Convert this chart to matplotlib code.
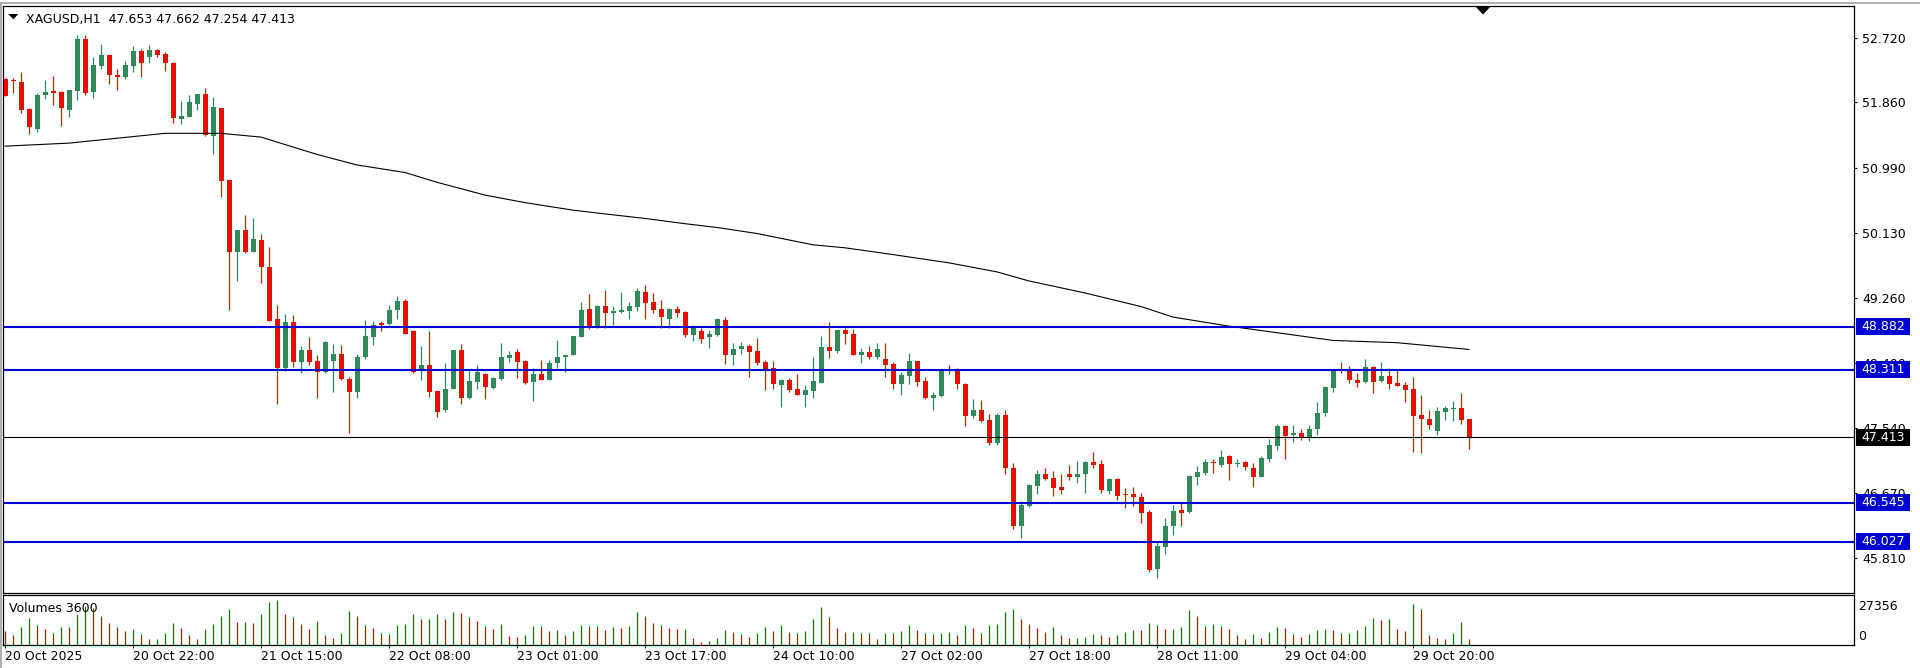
import numpy as np
import matplotlib
matplotlib.use("Agg")
import matplotlib.pyplot as plt
from matplotlib.patches import Polygon, Rectangle
from matplotlib.lines import Line2D

# ---------------- data ----------------
symbol = "XAGUSD,H1"

opens = [
    52.17, 52.16, 52.13, 51.77, 51.51, 51.96, 52.01, 52.00, 51.76, 52.01,
    52.70, 52.00, 52.35, 52.49, 52.23, 52.20, 52.35, 52.55, 52.47, 52.56,
    52.51, 52.39, 51.64, 51.67, 51.84, 51.97, 51.42, 51.79, 50.83, 49.88,
    50.17, 49.88, 50.03, 49.67, 48.98, 48.34, 48.94, 48.42, 48.57, 48.43,
    48.28, 48.43, 48.52, 48.19, 48.02, 48.48, 48.75, 48.93, 48.92, 49.10,
    49.23, 48.82, 48.30, 48.37, 48.03, 47.77, 48.06, 48.57, 47.93, 48.15,
    48.25, 48.07, 48.19, 48.47, 48.54, 48.43, 48.15, 48.26, 48.17, 48.40,
    48.48, 48.50, 48.75, 49.12, 48.86, 49.16, 49.07, 49.08, 49.09, 49.15,
    49.34, 49.21, 49.12, 48.98, 49.12, 49.08, 48.77, 48.82, 48.75, 48.77,
    48.97, 48.50, 48.58, 48.63, 48.56, 48.41, 48.34, 48.11, 48.17, 48.06,
    47.98, 48.03, 48.14, 48.61, 48.56, 48.84, 48.79, 48.50, 48.54, 48.48,
    48.45, 48.39, 48.12, 48.23, 48.43, 48.16, 47.94, 47.96, 48.32, 48.30,
    48.12, 47.69, 47.78, 47.64, 47.34, 47.71, 47.01, 46.24, 46.50, 46.77,
    46.93, 46.87, 46.76, 46.93, 46.89, 46.93, 47.08, 47.06, 46.70, 46.86,
    46.66, 46.66, 46.62, 46.42, 45.66, 45.96, 46.24, 46.45, 46.42, 46.89,
    46.94, 47.09, 47.05, 47.16, 47.06, 47.08, 47.01, 46.88, 47.12, 47.30,
    47.56, 47.44, 47.47, 47.40, 47.52, 47.73, 48.07, 48.31, 48.30, 48.18,
    48.15, 48.35, 48.16, 48.23, 48.14, 48.11, 48.06, 47.71, 47.66, 47.50,
    47.75, 47.79, 47.80, 47.653]

highs = [
    52.19, 52.19, 52.26, 51.79, 51.99, 52.16, 52.21, 52.01, 52.03, 52.76,
    52.76, 52.47, 52.64, 52.49, 52.30, 52.41, 52.61, 52.57, 52.62, 52.57,
    52.53, 52.40, 51.88, 51.96, 51.97, 52.05, 51.93, 51.79, 50.83, 50.17,
    50.37, 50.33, 50.11, 49.94, 49.17, 49.05, 49.04, 48.63, 48.74, 48.51,
    48.69, 48.65, 48.64, 48.22, 48.52, 48.97, 48.96, 48.96, 49.17, 49.29,
    49.25, 48.84, 48.63, 48.82, 48.03, 48.40, 48.57, 48.65, 48.31, 48.38,
    48.27, 48.22, 48.66, 48.56, 48.58, 48.44, 48.34, 48.44, 48.44, 48.70,
    48.51, 48.76, 49.21, 49.32, 49.17, 49.37, 49.16, 49.34, 49.21, 49.40,
    49.44, 49.33, 49.24, 49.13, 49.16, 49.09, 48.90, 48.86, 48.84, 49.00,
    49.01, 48.67, 48.68, 48.65, 48.73, 48.44, 48.43, 48.19, 48.20, 48.26,
    48.11, 48.48, 48.76, 48.94, 48.84, 48.87, 48.85, 48.60, 48.63, 48.67,
    48.67, 48.42, 48.28, 48.53, 48.43, 48.21, 48.01, 48.32, 48.37, 48.34,
    48.13, 47.92, 47.91, 47.72, 47.74, 47.78, 47.07, 46.57, 46.79, 46.98,
    47.01, 46.96, 46.93, 47.05, 47.10, 47.10, 47.22, 47.11, 46.87, 46.87,
    46.74, 46.75, 46.67, 46.45, 46.03, 46.34, 46.52, 46.54, 46.91, 47.03,
    47.13, 47.13, 47.25, 47.18, 47.12, 47.10, 47.07, 47.16, 47.39, 47.59,
    47.58, 47.58, 47.52, 47.58, 47.88, 48.09, 48.32, 48.41, 48.36, 48.27,
    48.46, 48.36, 48.41, 48.33, 48.31, 48.15, 48.22, 47.98, 47.78, 47.82,
    47.83, 47.89, 48.00, 47.662]

lows = [
    51.94, 51.98, 51.72, 51.44, 51.47, 51.90, 51.83, 51.55, 51.67, 51.89,
    51.96, 51.92, 52.31, 52.11, 52.03, 52.17, 52.26, 52.20, 52.39, 52.47,
    52.28, 51.59, 51.58, 51.67, 51.76, 51.41, 51.17, 50.61, 49.11, 49.49,
    49.86, 49.87, 49.46, 48.96, 47.86, 48.29, 48.35, 48.27, 48.38, 47.94,
    48.27, 48.02, 48.17, 47.47, 47.94, 48.45, 48.64, 48.83, 48.90, 48.99,
    48.79, 48.27, 48.17, 47.95, 47.68, 47.75, 48.05, 47.85, 47.92, 48.06,
    47.92, 48.06, 48.17, 48.42, 48.20, 48.12, 47.90, 48.17, 48.17, 48.34,
    48.28, 48.50, 48.74, 48.85, 48.86, 48.87, 48.91, 49.07, 48.99, 49.09,
    48.99, 49.06, 48.87, 48.87, 49.01, 48.75, 48.69, 48.67, 48.60, 48.76,
    48.39, 48.37, 48.52, 48.22, 48.37, 48.04, 48.06, 47.82, 48.01, 47.97,
    47.81, 47.93, 48.14, 48.47, 48.53, 48.65, 48.50, 48.40, 48.46, 48.45,
    48.22, 48.05, 47.97, 48.12, 48.09, 47.92, 47.77, 47.95, 48.26, 48.06,
    47.57, 47.67, 47.62, 47.31, 47.31, 46.93, 46.19, 46.08, 46.49, 46.66,
    46.85, 46.64, 46.66, 46.84, 46.81, 46.68, 47.00, 46.67, 46.66, 46.58,
    46.47, 46.50, 46.27, 45.63, 45.54, 45.86, 46.11, 46.24, 46.41, 46.78,
    46.91, 46.94, 47.02, 46.85, 47.02, 46.98, 46.76, 46.88, 47.08, 47.24,
    47.12, 47.35, 47.38, 47.36, 47.44, 47.70, 48.01, 48.27, 48.13, 48.08,
    48.13, 48.00, 48.15, 48.06, 48.09, 47.88, 47.22, 47.21, 47.53, 47.45,
    47.64, 47.63, 47.59, 47.254]

closes = [
    51.94, 52.14, 51.76, 51.53, 51.96, 52.00, 51.99, 51.78, 52.02, 52.70,
    51.99, 52.36, 52.49, 52.22, 52.20, 52.36, 52.55, 52.38, 52.56, 52.49,
    52.38, 51.66, 51.68, 51.86, 51.97, 51.43, 51.80, 50.82, 49.88, 50.17,
    49.88, 50.05, 49.67, 48.96, 48.34, 48.94, 48.42, 48.57, 48.42, 48.28,
    48.68, 48.52, 48.19, 48.01, 48.48, 48.76, 48.91, 48.91, 49.10, 49.22,
    48.79, 48.28, 48.37, 48.02, 47.75, 48.06, 48.57, 47.93, 48.16, 48.28,
    48.08, 48.20, 48.48, 48.51, 48.42, 48.14, 48.25, 48.17, 48.40, 48.48,
    48.51, 48.76, 49.10, 48.86, 49.16, 49.07, 49.09, 49.10, 49.16, 49.35,
    49.20, 49.10, 49.01, 49.12, 49.07, 48.77, 48.88, 48.72, 48.78, 48.98,
    48.50, 48.59, 48.63, 48.55, 48.40, 48.32, 48.12, 48.17, 48.04, 47.98,
    48.04, 48.16, 48.61, 48.56, 48.84, 48.78, 48.50, 48.54, 48.48, 48.58,
    48.38, 48.12, 48.24, 48.43, 48.15, 47.94, 47.98, 48.30, 48.29, 48.12,
    47.69, 47.78, 47.63, 47.34, 47.71, 47.01, 46.24, 46.51, 46.78, 46.93,
    46.86, 46.74, 46.71, 46.89, 46.93, 47.08, 47.05, 46.72, 46.86, 46.64,
    46.65, 46.62, 46.41, 45.65, 45.97, 46.24, 46.44, 46.41, 46.90, 46.95,
    47.09, 47.07, 47.15, 47.06, 47.07, 47.02, 46.88, 47.14, 47.31, 47.56,
    47.43, 47.47, 47.40, 47.52, 47.73, 48.08, 48.31, 48.29, 48.17, 48.14,
    48.35, 48.15, 48.23, 48.12, 48.10, 48.04, 47.70, 47.66, 47.58, 47.76,
    47.80, 47.80, 47.64, 47.413]

volumes = [
    8643, 5829, 11055, 16080, 11859, 9447, 7437, 11055, 10653, 18492,
    23718, 22512, 17688, 13467, 10653, 8643, 9447, 6834, 3417, 3819,
    7437, 13467, 10050, 5829, 3819, 9447, 12864, 17688, 21909, 13869,
    14070, 13467, 18492, 26130, 27356, 18492, 16683, 12462, 9447, 14673,
    6231, 4020, 7035, 20703, 17688, 11859, 10452, 7437, 6432, 12060,
    12462, 18894, 15477, 15678, 18894, 15678, 20100, 19497, 17085, 14472,
    11658, 9447, 12462, 5427, 5025, 6030, 11658, 11256, 8442, 9246,
    5829, 8643, 11859, 11457, 11256, 9045, 10653, 10251, 11256, 20100,
    17688, 13467, 11859, 10050, 9447, 9648, 4422, 2010, 2412, 4422,
    9246, 8040, 6432, 5025, 7437, 11055, 8643, 11859, 8040, 7035,
    8643, 15477, 22713, 16683, 10050, 7638, 8040, 7437, 7035, 3417,
    7437, 7035, 8442, 11859, 8844, 7035, 6432, 7035, 8040, 5829,
    11859, 10050, 7035, 12261, 12462, 19698, 21507, 15477, 12462, 10452,
    7638, 10653, 5829, 4020, 4422, 4623, 6834, 5829, 4623, 5829,
    8040, 9246, 9045, 13467, 11859, 9447, 9648, 10653, 20904, 17487,
    11457, 12462, 11457, 9447, 5829, 3417, 6432, 4020, 7638, 10653,
    10452, 6432, 4623, 6432, 8844, 9447, 8844, 7035, 7437, 8844,
    11256, 16080, 14874, 15477, 9447, 8643, 24924, 21909, 6231, 4422,
    3819, 7437, 13668, 3819]

# moving average line (read at these bar numbers)
ma_bars = [0, 8, 20, 27, 32, 39, 44, 47, 50, 54, 60, 65, 71, 75, 80, 85, 89, 94,
           101, 105, 111, 118, 124, 128, 135, 142, 146, 153, 166, 174, 183]
ma_values = [51.28, 51.32, 51.45, 51.45, 51.40, 51.17, 51.03, 50.98, 50.93, 50.80,
             50.63, 50.53, 50.43, 50.38, 50.32, 50.25, 50.20, 50.12, 49.97, 49.93,
             49.84, 49.73, 49.61, 49.49, 49.33, 49.15, 49.01, 48.89, 48.70, 48.67,
             48.58]

blue_levels = [48.882, 48.311, 46.545, 46.027]
last_price = 47.413
price_ticks = [52.720, 51.860, 50.990, 50.130, 49.260, 48.400, 47.540, 46.670, 45.810]
time_tick_bars = [0, 16, 32, 48, 64, 80, 96, 112, 128, 144, 160, 176]
time_tick_labels = ["20 Oct 2025", "20 Oct 22:00", "21 Oct 15:00", "22 Oct 08:00",
                    "23 Oct 01:00", "23 Oct 17:00", "24 Oct 10:00", "27 Oct 02:00",
                    "27 Oct 18:00", "28 Oct 11:00", "29 Oct 04:00", "29 Oct 20:00"]
volume_title = "Volumes 3600"
volume_max_label = 27356

# ---------------- style ----------------
BULL = "#2E8B57"
BEAR = "#FF0000"
VUP = "#008000"
VDN = "#E00000"
LEVEL_BLUE = "#0000D0"
FS = 9
plt.rcParams["font.family"] = ["DejaVu Sans"]

W, H = 1920, 668
def fx(px):
    return px / W
def fy(py):
    return 1 - py / H

fig = plt.figure(figsize=(W / 100, H / 100), dpi=100)
fig.patch.set_facecolor("white")

LEFT, RIGHT = 3, 1854
ax = fig.add_axes([fx(LEFT), fy(593), fx(RIGHT) - fx(LEFT), fy(6) - fy(593)])
axv = fig.add_axes([fx(LEFT), fy(645), fx(RIGHT) - fx(LEFT), fy(595) - fy(645)])

BAR_PX = 8.0
FIRST_PX = 5.0
xmin = (LEFT - FIRST_PX) / BAR_PX
xmax = (RIGHT - FIRST_PX) / BAR_PX

o = np.array(opens); h = np.array(highs); l = np.array(lows); c = np.array(closes)
idx = np.arange(len(o))
up = c >= o
ccol = np.where(up, BULL, BEAR)

# price scale
ymin, ymax = 45.346, 53.141
px_price = (ymax - ymin) / 587.0

ax.vlines(idx, l, h, colors=ccol, linewidth=0.9, zorder=2)
body_b = np.minimum(o, c)
body_h = np.maximum(np.abs(c - o), px_price * 1.0)
ax.bar(idx, body_h, bottom=body_b, width=5 / BAR_PX, color=ccol, linewidth=0, zorder=2.1)

ax.plot(ma_bars, ma_values, color="black", linewidth=0.8, zorder=3)

for lv in blue_levels:
    ax.axhline(lv, color=LEVEL_BLUE, linewidth=1.5, zorder=4)
ax.axhline(last_price, color="black", linewidth=0.8, zorder=4)

ax.set_xlim(xmin, xmax)
ax.set_ylim(ymin, ymax)
ax.set_xticks([])
ax.yaxis.tick_right()
ax.set_yticks(price_ticks)
ax.set_yticklabels([f"{t:.3f}" for t in price_ticks])
ax.tick_params(axis="y", direction="out", length=2.5, width=0.8, pad=3.2,
               labelsize=FS, colors="black")
for s in ax.spines.values():
    s.set_linewidth(0.9)
    s.set_color("black")

# level boxes on the price scale
axw = RIGHT - LEFT
ytr = ax.get_yaxis_transform()
def level_box(value, fc):
    half = 8.5 * px_price
    ax.add_patch(Rectangle((1 + 2 / axw, value - half), 54 / axw, 2 * half,
                           transform=ytr, facecolor=fc, edgecolor="none",
                           clip_on=False, zorder=20))
    ax.text(1 + 7 / axw, value, f"{value:.3f}", transform=ytr, ha="left",
            va="center", color="white", fontsize=FS, zorder=21, clip_on=False)
for lv in blue_levels:
    level_box(lv, LEVEL_BLUE)
level_box(last_price, "black")

# volumes
v = np.array(volumes)
vcol = [VUP if i > 0 and v[i] > v[i - 1] else VDN for i in range(len(v))]
vcol[0] = VDN
axv.vlines(idx, 0, v, colors=vcol, linewidth=0.9)
axv.set_xlim(xmin, xmax)
axv.set_ylim(0, 30150)
axv.set_yticks([])
axv.set_xticks(time_tick_bars)
axv.set_xticklabels(time_tick_labels)
for t in axv.get_xticklabels():
    t.set_ha("left")
axv.tick_params(axis="x", direction="out", length=2.5, width=0.8, pad=1.0,
                labelsize=FS, colors="black")
for s in axv.spines.values():
    s.set_linewidth(0.9)
    s.set_color("black")
axv.text(1 + 4.5 / axw, 0.78, f"{volume_max_label}", transform=axv.transAxes,
         ha="left", va="center", fontsize=FS)
axv.text(1 + 4.5 / axw, 0.18, "0", transform=axv.transAxes,
         ha="left", va="center", fontsize=FS)
fig.text(fx(9), fy(612.5), volume_title, ha="left", va="baseline", fontsize=FS)

# header
header = f"{symbol}  {opens[-1]:.3f} {highs[-1]:.3f} {lows[-1]:.3f} {closes[-1]:.3f}"
fig.text(fx(26), fy(22.5), header, ha="left", va="baseline", fontsize=FS)
fig.patches.append(Polygon([(fx(8.3), fy(14)), (fx(18.3), fy(14)), (fx(13.3), fy(19.3))],
                           closed=True, transform=fig.transFigure, facecolor="black",
                           edgecolor="none"))
# chart shift marker at the top
fig.patches.append(Polygon([(fx(1475), fy(6)), (fx(1491), fy(6)), (fx(1483), fy(14.5))],
                           closed=True, transform=fig.transFigure, facecolor="black",
                           edgecolor="none"))
# window frame
fig.lines.append(Line2D([0, 1], [fy(2.5), fy(2.5)], transform=fig.transFigure,
                        color="#A0A0A0", linewidth=1.2))
fig.lines.append(Line2D([fx(0.8), fx(0.8)], [0, fy(2.5)], transform=fig.transFigure,
                        color="#A0A0A0", linewidth=1.2))

fig.savefig("out.png", dpi=100, facecolor="white")
